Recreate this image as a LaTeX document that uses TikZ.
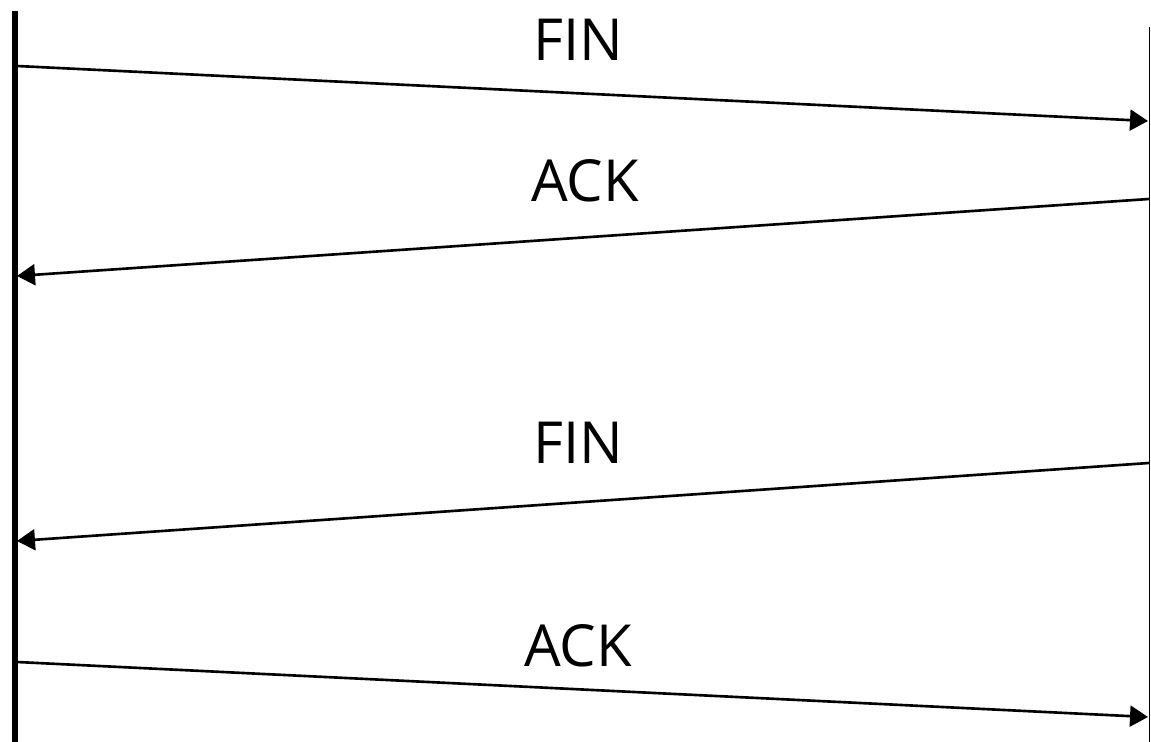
\documentclass[tikz,border=0pt]{standalone}
\usepackage{fontspec}
\setmainfont{Open Sans}
\usetikzlibrary{arrows.meta}
\tikzstyle{msg}=[line width=1.5pt, -{Triangle[length=0.36cm, width=0.42cm]}]
\tikzstyle{lbl}=[inner sep=0pt, font=\fontsize{33}{36}\selectfont]
\begin{document}
\begin{tikzpicture}[x=0.02cm, y=-0.02cm]
 \useasboundingbox (0,0) rectangle (1151,742);
 % life lines
 \draw[line width=3.4pt] (15,11) -- (15,742);
 \draw[line width=0.9pt] (1149.5,27) -- (1149.5,742);
 % end points
 \coordinate (a1) at (17,66);   \coordinate (b1) at (1148,121);
 \coordinate (b2) at (1149,199); \coordinate (a2) at (17,276);
 \coordinate (b3) at (1149,463); \coordinate (a3) at (17,541);
 \coordinate (a4) at (17,662);   \coordinate (b4) at (1148,717);
 % messages
 \draw[msg] (a1) -- (b1);
 \draw[msg] (b2) -- (a2);
 \draw[msg] (b3) -- (a3);
 \draw[msg] (a4) -- (b4);
 \node[lbl] (fin1) at (578,40) {FIN};
 \node[lbl] (ack1) at (585,181) {ACK};
 \node[lbl] (fin2) at (578,443) {FIN};
 \node[lbl] (ack2) at (578,646) {ACK};
\end{tikzpicture}
\end{document}
